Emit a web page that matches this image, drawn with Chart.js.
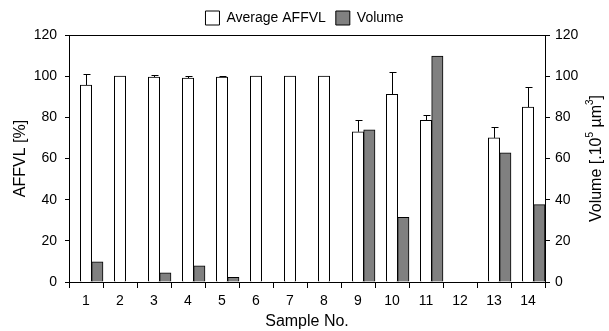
<!doctype html>
<html>
<head>
<title>AFFVL and Volume</title>
<script src="https://cdn.jsdelivr.net/npm/chart.js@4.4.1/dist/chart.umd.min.js"></script>
<style>
body { margin: 0; background: #fff; }
#container { width: 609px; height: 331px; }
</style>
</head>
<body>
<div id="container"><canvas id="canvas"></canvas></div>
<script>
// data
var samples   = ['1', '2', '3', '4', '5', '6', '7', '8', '9', '10', '11', '12', '13', '14'];
var affvl     = [95.7, 100, 99.6, 99.1, 99.6, 100, 100, 100, 73, 91.2, 78.6, null, 70, 85];
var affvlErr  = [5.4, 0, 1, 0.9, 0.5, 0, 0, 0, 5.9, 10.6, 2.7, null, 5.2, 9.6];
var volume    = [9.8, 0, 4.4, 7.8, 2.3, 0, 0, 0, 73.9, 31.4, 109.8, 0, 62.8, 37.6];
var spacer    = samples.map(function () { return null; });
var axisMin = 0, axisMax = 120, axisStep = 20;

var fontFamily = "'Liberation Sans', Arial, sans-serif";
Chart.defaults.font.family = fontFamily;
Chart.defaults.color = '#000';

// upper error bars on the AFFVL bars, top frame line, right axis title with superscripts
var extras = {
	id: 'extras',
	afterDatasetsDraw: function (chart) {
		var meta = chart.getDatasetMeta(1);
		var yScale = chart.scales.y;
		var ctx = chart.ctx;
		ctx.save();
		ctx.strokeStyle = '#000';
		ctx.lineWidth = 1;
		meta.data.forEach(function (bar, i) {
			if (affvl[i] == null || !affvlErr[i]) return;
			var x = Math.round(bar.x) + 0.5;
			var yTop = Math.round(yScale.getPixelForValue(affvl[i] + affvlErr[i])) + 0.5;
			ctx.beginPath();
			ctx.moveTo(x, bar.y);
			ctx.lineTo(x, yTop);
			ctx.moveTo(x - 3, yTop);
			ctx.lineTo(x + 4, yTop);
			ctx.stroke();
		});
		var a = chart.chartArea;
		ctx.beginPath();
		ctx.moveTo(a.left, Math.round(a.top) + 0.5);
		ctx.lineTo(a.right, Math.round(a.top) + 0.5);
		ctx.stroke();
		ctx.restore();
	},
	afterDraw: function (chart) {
		var ctx = chart.ctx;
		var a = chart.chartArea;
		var parts = [
			{ t: 'Volume [.10', sup: false },
			{ t: '5', sup: true },
			{ t: ' \u00b5m', sup: false },
			{ t: '3', sup: true },
			{ t: ']', sup: false }
		];
		var big = '16px ' + fontFamily, small = '10px ' + fontFamily;
		ctx.save();
		var total = 0;
		parts.forEach(function (p) {
			ctx.font = p.sup ? small : big;
			p.w = ctx.measureText(p.t).width;
			total += p.w;
		});
		ctx.translate(597, (a.top + a.bottom) / 2);
		ctx.rotate(-Math.PI / 2);
		ctx.fillStyle = '#000';
		ctx.textBaseline = 'middle';
		var x = -total / 2;
		parts.forEach(function (p) {
			ctx.font = p.sup ? small : big;
			ctx.fillText(p.t, x, p.sup ? -7 : 0);
			x += p.w;
		});
		ctx.restore();
	}
};

var ctx = document.getElementById('canvas').getContext('2d');
window.myBar = new Chart(ctx, {
	type: 'bar',
	data: {
		labels: samples,
		datasets: [{
			label: 'spacer',
			data: spacer,
			yAxisID: 'y'
		}, {
			label: 'Average AFFVL',
			data: affvl,
			backgroundColor: '#ffffff',
			borderColor: '#000000',
			borderWidth: 1,
			yAxisID: 'y'
		}, {
			label: 'Volume',
			data: volume,
			backgroundColor: '#808080',
			borderColor: '#000000',
			borderWidth: 1,
			yAxisID: 'y1'
		}]
	},
	options: {
		responsive: true,
		maintainAspectRatio: false,
		animation: false,
		categoryPercentage: 1.0,
		barPercentage: 1.0,
		layout: { padding: { top: 1 } },
		plugins: {
			legend: {
				position: 'top',
				labels: {
					boxWidth: 14,
					boxHeight: 14,
					padding: 10,
					font: { size: 14 },
					generateLabels: function (chart) {
						var items = Chart.defaults.plugins.legend.labels.generateLabels(chart);
						return items.filter(function (it) { return it.datasetIndex !== 0; });
					}
				}
			},
			tooltip: { enabled: false }
		},
		scales: {
			x: {
				grid: { drawOnChartArea: false, offset: true, tickLength: 6, color: '#000' },
				border: { color: '#000' },
				ticks: { font: { size: 14 }, padding: 5, maxRotation: 0 },
				title: { display: true, text: 'Sample No.', font: { size: 16 }, padding: 0 },
				afterFit: function (s) { s.height = 49; }
			},
			y: {
				position: 'left',
				min: axisMin, max: axisMax,
				ticks: { stepSize: axisStep, font: { size: 14 }, padding: 8 },
				grid: { drawOnChartArea: false, tickLength: 4, color: '#000' },
				border: { color: '#000' },
				title: { display: true, text: 'AFFVL [%]', font: { size: 16 }, padding: { top: 11, bottom: 0 } },
				afterFit: function (s) { s.width = 69; }
			},
			y1: {
				position: 'right',
				min: axisMin, max: axisMax,
				ticks: { stepSize: axisStep, font: { size: 14 }, padding: 5 },
				grid: { drawOnChartArea: false, tickLength: 5, color: '#000' },
				border: { color: '#000' },
				afterFit: function (s) { s.width = 64; }
			}
		}
	},
	plugins: [extras]
});
</script>
</body>
</html>
